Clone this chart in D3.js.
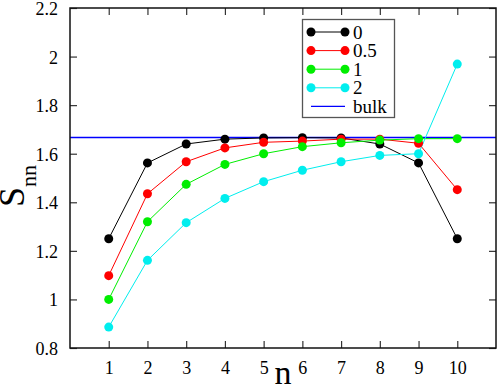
<!DOCTYPE html>
<html><head><meta charset="utf-8">
<script src="https://cdn.jsdelivr.net/npm/d3@7"></script>
</head><body style="margin:0">
<svg id="c" width="498" height="388"></svg>
<script>
const nValues = [1,2,3,4,5,6,7,8,9,10];
const seriesNames = ["0","0.5","1","2"];
const seriesColors = ["#000000","#ff0000","#00ee00","#00eeee"];
const s0   = [1.25,1.562,1.640,1.660,1.665,1.666,1.665,1.640,1.562,1.25];
const s05  = [1.098,1.435,1.567,1.624,1.647,1.652,1.660,1.660,1.643,1.452];
const s1   = [1.0,1.320,1.474,1.556,1.600,1.629,1.645,1.656,1.662,1.662];
const s2   = [0.886,1.161,1.316,1.416,1.485,1.532,1.567,1.593,1.600,1.969];
const bulkValue = 5/3;
const xTicks = [1,2,3,4,5,6,7,8,9,10];
const yTicks = [0.8,1,1.2,1.4,1.6,1.8,2,2.2];
const yTickLabels = ["0.8","1","1.2","1.4","1.6","1.8","2","2.2"];

const series = [s0,s05,s1,s2];
const svg = d3.select("#c");
const L=70,R=496,T=8,B=348;
const x = d3.scaleLinear().domain([0,11]).range([L,R]);
const y = d3.scaleLinear().domain([0.8,2.2]).range([B,T]);
const font = '"Liberation Serif"';

// bulk line
svg.append("line").attr("x1",L).attr("x2",R).attr("y1",y(bulkValue)).attr("y2",y(bulkValue))
  .attr("stroke","#0000ff").attr("stroke-width",1.3);

const line = d3.line().x((d,i)=>x(nValues[i])).y(d=>y(d));
series.forEach((s,k)=>{
  svg.append("path").attr("d",line(s)).attr("fill","none").attr("stroke",seriesColors[k]).attr("stroke-width",1);
});
series.forEach((s,k)=>{
  svg.append("g").selectAll("circle").data(s).join("circle")
    .attr("cx",(d,i)=>x(nValues[i])).attr("cy",d=>y(d)).attr("r",4.5).attr("fill",seriesColors[k]);
});

// axes
const ax = d3.axisBottom(x).tickValues(xTicks).tickSize(-7).tickPadding(12).tickFormat(d3.format("d"));
const gx = svg.append("g").attr("transform",`translate(0,${B})`).call(ax);
const axT = d3.axisTop(x).tickValues(xTicks).tickSize(-7).tickFormat("");
const gxt = svg.append("g").attr("transform",`translate(0,${T})`).call(axT);
const ay = d3.axisLeft(y).tickValues(yTicks).tickSize(-7).tickPadding(12).tickFormat((d,i)=>yTickLabels[i]);
const gy = svg.append("g").attr("transform",`translate(${L},0)`).call(ay);
const ayR = d3.axisRight(y).tickValues(yTicks).tickSize(-7).tickFormat("");
const gyr = svg.append("g").attr("transform",`translate(${R},0)`).call(ayR);
[gx,gxt,gy,gyr].forEach(g=>{
  g.attr("font-family",null).attr("font-size",null);
  g.select(".domain").remove();
  g.selectAll(".tick line").attr("stroke","#333").attr("stroke-width",1.2);
  g.selectAll("text").attr("fill","#000");
});
gy.selectAll("text").attr("dy","0.36em");
gx.selectAll("text").attr("dy","0.75em");
svg.append("rect").attr("x",L).attr("y",T).attr("width",R-L).attr("height",B-T)
  .attr("fill","none").attr("stroke","#111").attr("stroke-width",1.5);

// axis titles
svg.append("text").attr("class","big").attr("x",283).attr("y",384).attr("text-anchor","middle").text("n");
const yt = svg.append("text").attr("class","ylab").attr("transform","translate(24,207) rotate(-90)");
yt.append("tspan").text("S");
yt.append("tspan").attr("class","sub").attr("dy",12).text("nn");

// legend
const lg = svg.append("g");
lg.append("rect").attr("x",302.5).attr("y",19.5).attr("width",92).attr("height",98)
  .attr("fill","#fff").attr("stroke","#555").attr("stroke-width",1.3);
const names = seriesNames.concat(["bulk"]);
const cols = seriesColors.concat(["#0000ff"]);
names.forEach((nm,i)=>{
  const yy = 32 + i*18.6;
  lg.append("line").attr("x1",311).attr("x2",345).attr("y1",yy).attr("y2",yy)
    .attr("stroke",cols[i]).attr("stroke-width",i<4?1:1.3);
  if(i<4){
    [311,345].forEach(cx=>lg.append("circle").attr("cx",cx).attr("cy",yy).attr("r",4.5).attr("fill",cols[i]));
  }
  lg.append("text").attr("class","leg").attr("x",353).attr("y",yy+6.5).text(nm);
});

svg.selectAll("text").style("font-family", font).attr("font-size",18);
svg.selectAll("text.leg").attr("font-size",19);
svg.selectAll("text.big").attr("font-size",34);
svg.selectAll("text.ylab").attr("font-size",36);
svg.selectAll("tspan.sub").style("font-size","22px");
</script>
</body></html>
